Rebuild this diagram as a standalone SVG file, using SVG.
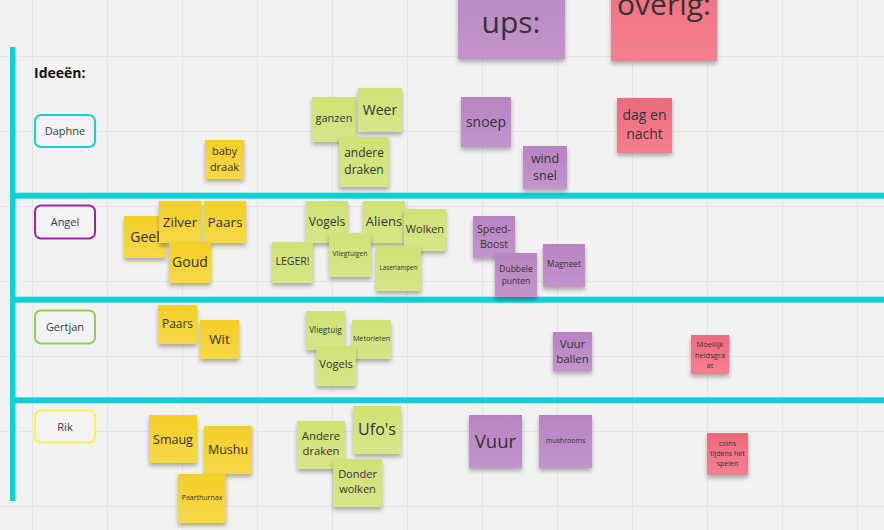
<svg xmlns="http://www.w3.org/2000/svg" width="884" height="530" viewBox="0 0 884 530">
<defs>
<style>
.bg{fill:#f2f2f2}
.grid line{stroke:#e5e5e5;stroke-width:1}
.lane{fill:#14ced6}
.y{fill:url(#gy)}
.g{fill:url(#gg)}
.p{fill:url(#gp)}
.r{fill:url(#gr)}
.s{filter:url(#sh)}
text{font-family:"Open Sans","Noto Sans","DejaVu Sans",sans-serif;fill:#333;text-anchor:middle}
.lbl{fill:#f3f3f3;stroke-width:2}
.lt{font-size:11px;fill:#3a3a3a}
</style>
<linearGradient id="gy" x1="0" y1="0" x2="0" y2="1"><stop offset="0" stop-color="#f4cf26"/><stop offset="1" stop-color="#f6d84a"/></linearGradient>
<linearGradient id="gg" x1="0" y1="0" x2="0" y2="1"><stop offset="0" stop-color="#d0e175"/><stop offset="1" stop-color="#d7e68a"/></linearGradient>
<linearGradient id="gp" x1="0" y1="0" x2="0" y2="1"><stop offset="0" stop-color="#b883c2"/><stop offset="1" stop-color="#c394cc"/></linearGradient>
<linearGradient id="gr" x1="0" y1="0" x2="0" y2="1"><stop offset="0" stop-color="#f0697d"/><stop offset="1" stop-color="#f4808f"/></linearGradient>
<filter id="sh" x="-20%" y="-20%" width="140%" height="150%"><feDropShadow dx="0" dy="3" stdDeviation="2" flood-color="#000" flood-opacity="0.3"/></filter>
</defs>
<rect class="bg" x="0" y="0" width="884" height="530"/>
<g class="grid">
<line x1="32.5" y1="0" x2="32.5" y2="530"/><line x1="107.5" y1="0" x2="107.5" y2="530"/><line x1="182.5" y1="0" x2="182.5" y2="530"/><line x1="257.5" y1="0" x2="257.5" y2="530"/><line x1="332.5" y1="0" x2="332.5" y2="530"/><line x1="407.5" y1="0" x2="407.5" y2="530"/><line x1="482.5" y1="0" x2="482.5" y2="530"/><line x1="557.5" y1="0" x2="557.5" y2="530"/><line x1="632.5" y1="0" x2="632.5" y2="530"/><line x1="707.5" y1="0" x2="707.5" y2="530"/><line x1="782.5" y1="0" x2="782.5" y2="530"/><line x1="857.5" y1="0" x2="857.5" y2="530"/>
<line x1="0" y1="56.5" x2="884" y2="56.5"/><line x1="0" y1="131.5" x2="884" y2="131.5"/><line x1="0" y1="206.5" x2="884" y2="206.5"/><line x1="0" y1="281.5" x2="884" y2="281.5"/><line x1="0" y1="356.5" x2="884" y2="356.5"/><line x1="0" y1="431.5" x2="884" y2="431.5"/><line x1="0" y1="506.5" x2="884" y2="506.5"/>
</g>
<g id="connectors">
<rect class="lane" x="10" y="47" width="5.5" height="454"/>
<rect class="lane" x="10" y="192.7" width="874" height="6"/>
<rect class="lane" x="10" y="296.7" width="874" height="6"/>
<rect class="lane" x="10" y="397.3" width="874" height="6"/>
</g>
<g id="title"><text x="34" y="78" style="font-size:14px;font-weight:bold;fill:#111;text-anchor:start">Ideeën:</text></g>
<g id="label-daphne"><rect class="lbl" x="35" y="115" width="60" height="32" rx="6" stroke="#1ccdd8"/><text class="lt" x="65" y="135">Daphne</text></g>
<g id="label-angel"><rect class="lbl" x="35" y="205.5" width="60" height="33" rx="6" stroke="#9b22ae"/><text class="lt" x="65" y="226">Angel</text></g>
<g id="label-gertjan"><rect class="lbl" x="35" y="310.5" width="60" height="33" rx="6" stroke="#8fd14f"/><text class="lt" x="65" y="331">Gertjan</text></g>
<g id="label-rik"><rect class="lbl" x="35" y="410.5" width="60" height="32" rx="6" stroke="#fdf24a"/><text class="lt" x="65" y="431">Rik</text></g>

<g id="ups"><rect class="p s" x="458" y="-48" width="107" height="107"/><text x="511" y="33" style="font-size:30px">ups:</text></g>
<g id="overig"><rect class="r s" x="611" y="-47" width="106" height="108"/><text x="664" y="15" style="font-size:30px">overig:</text></g>

<g id="baby-draak"><rect class="y s" x="205" y="140" width="39" height="39"/><text x="224.5" y="155" style="font-size:11px">baby</text><text x="224.5" y="171" style="font-size:11px">draak</text></g>
<g id="ganzen"><rect class="g s" x="312" y="97" width="44" height="45"/><text x="334" y="122" style="font-size:11px">ganzen</text></g>
<g id="weer"><rect class="g s" x="358" y="88" width="44" height="44"/><text x="380" y="115" style="font-size:14px">Weer</text></g>
<g id="andere-draken-1"><rect class="g s" x="339" y="137" width="50" height="50"/><text x="364" y="157" style="font-size:12px">andere</text><text x="364" y="174" style="font-size:12px">draken</text></g>
<g id="snoep"><rect class="p s" x="461" y="97" width="50" height="50"/><text x="486" y="127" style="font-size:14px">snoep</text></g>
<g id="wind-snel"><rect class="p s" x="523" y="146" width="44" height="43"/><text x="545" y="163" style="font-size:12.5px">wind</text><text x="545" y="180" style="font-size:12.5px">snel</text></g>
<g id="dag-en-nacht"><rect class="r s" x="617" y="98" width="55" height="55"/><text x="644.5" y="120" style="font-size:14px">dag en</text><text x="644.5" y="139" style="font-size:14px">nacht</text></g>

<g id="geel"><rect class="y s" x="124" y="216" width="42" height="42"/><text x="145" y="242" style="font-size:14px">Geel</text></g>
<g id="zilver"><rect class="y s" x="159" y="201" width="42" height="42"/><text x="180" y="227" style="font-size:13.5px">Zilver</text></g>
<g id="paars-1"><rect class="y s" x="204" y="201" width="42" height="42"/><text x="225" y="227" style="font-size:13.5px">Paars</text></g>
<g id="goud"><rect class="y s" x="169" y="242" width="42" height="41"/><text x="190" y="267" style="font-size:14px">Goud</text></g>
<g id="vogels-1"><rect class="g s" x="306" y="201" width="42" height="42"/><text x="327" y="226" style="font-size:12px">Vogels</text></g>
<g id="aliens"><rect class="g s" x="363" y="201" width="42" height="42"/><text x="384" y="226" style="font-size:13px">Aliens</text></g>
<g id="wolken"><rect class="g s" x="404" y="209" width="42" height="42"/><text x="425" y="233" style="font-size:11px">Wolken</text></g>
<g id="leger"><rect class="g s" x="272" y="242" width="41" height="41"/><text x="292.5" y="265" style="font-size:10.5px">LEGER!</text></g>
<g id="vliegtuigen"><rect class="g s" x="329" y="233" width="42" height="44"/><text x="350" y="256" style="font-size:6.8px">Vliegtuigen</text></g>
<g id="laserlampen"><rect class="g s" x="376" y="246" width="45" height="45"/><text x="398.5" y="270" style="font-size:6.3px">Laserlampen</text></g>
<g id="speed-boost"><rect class="p s" x="473" y="216" width="42" height="42"/><text x="494" y="233" style="font-size:10.5px">Speed-</text><text x="494" y="248" style="font-size:10.5px">Boost</text></g>
<g id="dubbele-punten"><rect class="p s" x="495" y="253" width="42" height="44"/><text x="516" y="272" style="font-size:8.5px">Dubbele</text><text x="516" y="284" style="font-size:8.5px">punten</text></g>
<g id="magneet"><rect class="p s" x="543" y="244" width="42" height="43"/><text x="564" y="267" style="font-size:8.3px">Magneet</text></g>

<g id="paars-2"><rect class="y s" x="158" y="305" width="39" height="39"/><text x="177.5" y="328" style="font-size:12px">Paars</text></g>
<g id="wit"><rect class="y s" x="200" y="320" width="39" height="39"/><text x="219.5" y="344" style="font-size:13.5px">Wit</text></g>
<g id="vliegtuig"><rect class="g s" x="306" y="311" width="39" height="39"/><text x="325.5" y="333" style="font-size:8.2px">Vliegtuig</text></g>
<g id="metorieten"><rect class="g s" x="352" y="320" width="39" height="39"/><text x="371.5" y="341" style="font-size:7.2px">Metorieten</text></g>
<g id="vogels-2"><rect class="g s" x="316" y="346" width="40" height="40"/><text x="336" y="368" style="font-size:11px">Vogels</text></g>
<g id="vuur-ballen"><rect class="p s" x="553" y="332" width="39" height="39"/><text x="572.5" y="348" style="font-size:11.5px">Vuur</text><text x="572.5" y="363" style="font-size:11.5px">ballen</text></g>
<g id="moeilijkheidsgraat"><rect class="r s" x="691" y="335" width="38" height="39"/><text x="710" y="347" style="font-size:7.5px">Moeilijk</text><text x="710" y="357.5" style="font-size:7.5px">heidsgra</text><text x="710" y="368" style="font-size:7.5px">at</text></g>

<g id="smaug"><rect class="y s" x="149" y="415" width="48" height="48"/><text x="173" y="444" style="font-size:12.5px">Smaug</text></g>
<g id="mushu"><rect class="y s" x="204" y="426" width="48" height="48"/><text x="228" y="454" style="font-size:12.5px">Mushu</text></g>
<g id="paarthurnax"><rect class="y s" x="178" y="474" width="48" height="49"/><text x="202" y="500" style="font-size:7px">Paarthurnax</text></g>
<g id="andere-draken-2"><rect class="g s" x="297" y="421" width="48" height="48"/><text x="321" y="440" style="font-size:11.3px">Andere</text><text x="321" y="455" style="font-size:11.3px">draken</text></g>
<g id="ufos"><rect class="g s" x="353" y="406" width="48" height="48"/><text x="377" y="435" style="font-size:16px">Ufo's</text></g>
<g id="donder-wolken"><rect class="g s" x="333" y="459" width="49" height="48"/><text x="357.5" y="478" style="font-size:11px">Donder</text><text x="357.5" y="493" style="font-size:11px">wolken</text></g>
<g id="vuur"><rect class="p s" x="469" y="415" width="53" height="53"/><text x="495.5" y="448" style="font-size:18.5px">Vuur</text></g>
<g id="mushrooms"><rect class="p s" x="539" y="415" width="53" height="53"/><text x="565.5" y="443" style="font-size:7px">mushrooms</text></g>
<g id="coins"><rect class="r s" x="707" y="433" width="41" height="42"/><text x="727.5" y="446" style="font-size:7px">coins</text><text x="727.5" y="456" style="font-size:7px">tijdens het</text><text x="727.5" y="465.5" style="font-size:7px">spelen</text></g>
</svg>
